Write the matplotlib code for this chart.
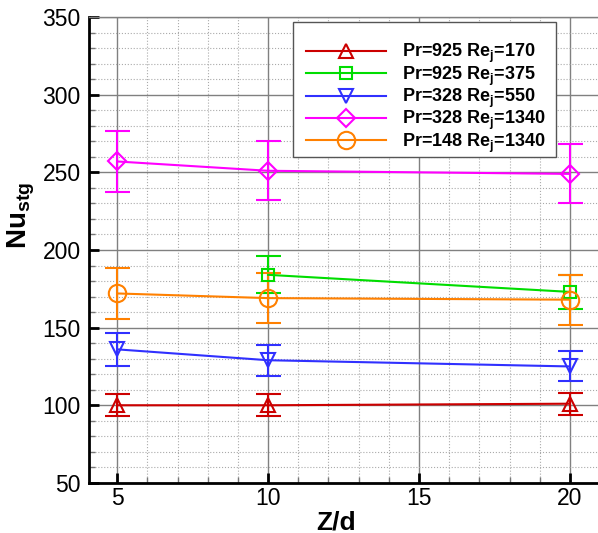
import matplotlib
matplotlib.use("Agg")
import matplotlib.pyplot as plt
from matplotlib.patches import Rectangle
from matplotlib.ticker import MultipleLocator

plt.rcParams['font.family'] = 'Liberation Sans'
plt.rcParams['mathtext.fontset'] = 'custom'
plt.rcParams['mathtext.rm'] = 'Liberation Sans:bold'
plt.rcParams['mathtext.bf'] = 'Liberation Sans:bold'
plt.rcParams['mathtext.it'] = 'Liberation Sans:bold'

# dados
zd_all = [5, 10, 20]
zd_green = [10, 20]

nu_red = [100, 100, 101]
err_red = [7, 7, 7]
nu_green = [184, 173]
err_green = [12, 11]
nu_blue = [136, 129, 125]
err_blue = [10.5, 10, 9.7]
nu_magenta = [257, 251, 249]
err_magenta = [19.5, 19, 19]
nu_orange = [172, 169, 168]
err_orange = [16.5, 16, 16]

labels = [r'Pr=925 Re$_{\mathrm{j}}$=170',
          r'Pr=925 Re$_{\mathrm{j}}$=375',
          r'Pr=328 Re$_{\mathrm{j}}$=550',
          r'Pr=328 Re$_{\mathrm{j}}$=1340',
          r'Pr=148 Re$_{\mathrm{j}}$=1340']

fig = plt.figure(figsize=(5.98, 5.33), dpi=100, facecolor='w')
ax = fig.add_axes([0.149, 0.094, 0.851, 0.874])

series = [
    (zd_all, nu_red, err_red, '#CC0000', '^', 10),
    (zd_green, nu_green, err_green, '#00DD00', 's', 9),
    (zd_all, nu_blue, err_blue, '#3030FF', 'v', 10),
    (zd_all, nu_magenta, err_magenta, '#FF00FF', 'D', 9.5),
    (zd_all, nu_orange, err_orange, '#FF8000', 'o', 12.5),
]
handles = []
for (x, y, e, c, m, ms), lab in zip(series, labels):
    ax.errorbar(x, y, yerr=e, fmt='none', ecolor=c, elinewidth=1.5,
                capsize=9, capthick=1.5, zorder=3)
    h, = ax.plot(x, y, color=c, lw=1.5, marker=m, ms=ms, mfc='none',
                 mec=c, mew=1.5, label=lab, zorder=4)
    handles.append(h)

ax.set_xlim(4.07, 20.93)
ax.set_ylim(50, 350)
ax.xaxis.set_major_locator(MultipleLocator(5))
ax.xaxis.set_minor_locator(MultipleLocator(1))
ax.yaxis.set_major_locator(MultipleLocator(50))
ax.yaxis.set_minor_locator(MultipleLocator(10))

ax.grid(which='major', color='#808080', lw=1, ls='-', zorder=0)
ax.grid(which='minor', color='#aaaaaa', lw=0.8, ls=':', zorder=0)
ax.set_axisbelow(True)

ax.tick_params(which='major', direction='in', length=7, width=2,
               labelsize=16.5, color='k', pad=6)
ax.tick_params(axis='x', which='major', pad=3)
ax.tick_params(which='minor', direction='in', length=4, width=1, color='#777777')
for s in ['left', 'bottom']:
    ax.spines[s].set_linewidth(2)
ax.spines['top'].set_color('#808080')
ax.spines['top'].set_linewidth(1)
ax.spines['right'].set_visible(False)

ax.set_xlabel('Z/d', fontsize=19, fontweight='bold', va='center')
ax.xaxis.set_label_coords(0.486, -0.085)
ax.set_ylabel(r'Nu$_{\mathrm{stg}}$', fontsize=20, fontweight='bold', va='center')
ax.yaxis.set_label_coords(-0.134, 0.573)

# caixa da legenda
box = Rectangle((0.4016, 0.6996), 0.5157, 0.2897, transform=ax.transAxes,
                facecolor='white', edgecolor='#555555', lw=1, zorder=5)
ax.add_patch(box)
leg = ax.legend(handles=handles, loc='upper left', bbox_to_anchor=(0.427, 0.946),
                prop={'weight': 'bold', 'size': 13}, frameon=False,
                handlelength=4.4, handletextpad=0.9, labelspacing=-0.05,
                borderpad=0, borderaxespad=0)
leg.set_zorder(6)

plt.savefig("out.png", dpi=100)
